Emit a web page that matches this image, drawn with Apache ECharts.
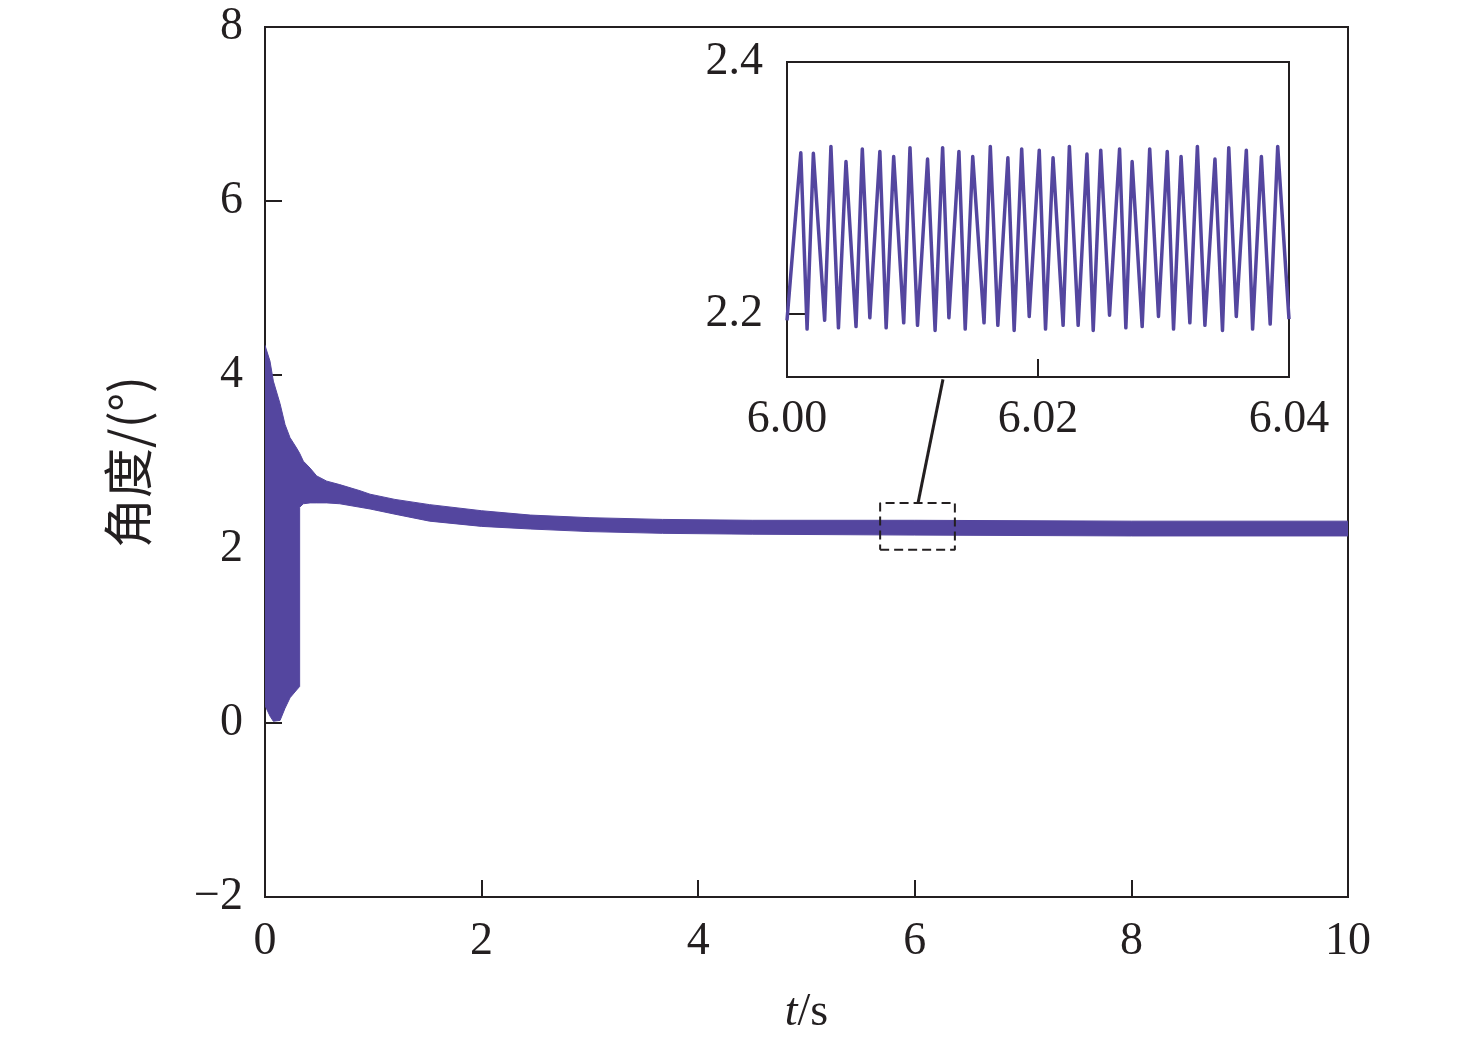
<!DOCTYPE html>
<html>
<head>
<meta charset="utf-8">
<script src="https://cdn.jsdelivr.net/npm/echarts@6/dist/echarts.min.js"></script>
<style>html,body{margin:0;padding:0;background:#fff;}#c{width:1476px;height:1042px;}</style>
</head>
<body>
<div id="c"></div>
<script>
// ---- main trace: oscillation envelope (t in s, angle in deg) ----
const mainT     = [0, 0.046, 0.077, 0.139, 0.185, 0.231, 0.292, 0.32, 0.32, 0.354, 0.416, 0.477, 0.57, 0.69, 0.877, 0.97, 1.2, 1.52, 2.0, 2.45, 3.0, 3.67, 4.5, 6.0, 8.0, 10.0];
const mainUpper = [4.34, 4.16, 3.93, 3.67, 3.43, 3.28, 3.16, 3.10, 3.10, 3.01, 2.93, 2.84, 2.78, 2.74, 2.67, 2.63, 2.57, 2.51, 2.44, 2.39, 2.36, 2.34, 2.33, 2.33, 2.32, 2.32];
const mainLower = [0.20, 0.08, 0.02, 0.03, 0.17, 0.29, 0.38, 0.42, 2.48, 2.52, 2.53, 2.53, 2.53, 2.52, 2.48, 2.46, 2.40, 2.32, 2.26, 2.23, 2.20, 2.18, 2.17, 2.16, 2.15, 2.15];

// ---- inset trace: 6.00 - 6.04 s ----
const insetT = [6.0000, 6.0011, 6.0016, 6.0021, 6.0030, 6.0035, 6.0041, 6.0047, 6.0055, 6.0060, 6.0066, 6.0074, 6.0079, 6.0085, 6.0093, 6.0098, 6.0104, 6.0112, 6.0118, 6.0124, 6.0129, 6.0137, 6.0142, 6.0148, 6.0157, 6.0162, 6.0168, 6.0176, 6.0181, 6.0187, 6.0193, 6.0201, 6.0206, 6.0212, 6.0220, 6.0225, 6.0232, 6.0239, 6.0244, 6.0250, 6.0257, 6.0265, 6.0270, 6.0275, 6.0283, 6.0289, 6.0296, 6.0303, 6.0308, 6.0314, 6.0321, 6.0327, 6.0333, 6.0341, 6.0347, 6.0352, 6.0358, 6.0366, 6.0371, 6.0378, 6.0385, 6.0391, 6.0400];
const insetV = [2.195, 2.328, 2.188, 2.3275, 2.195, 2.333, 2.189, 2.321, 2.190, 2.331, 2.197, 2.329, 2.189, 2.325, 2.193, 2.332, 2.191, 2.323, 2.187, 2.332, 2.197, 2.329, 2.188, 2.325, 2.193, 2.333, 2.191, 2.324, 2.187, 2.331, 2.198, 2.330, 2.188, 2.324, 2.191, 2.333, 2.191, 2.327, 2.187, 2.330, 2.199, 2.331, 2.189, 2.321, 2.190, 2.331, 2.198, 2.329, 2.188, 2.325, 2.193, 2.333, 2.191, 2.323, 2.187, 2.332, 2.198, 2.330, 2.188, 2.325, 2.192, 2.333, 2.196];

// ---- annotation: zoom box and connector (data units of main axes) ----
const zoomBoxT = [5.68, 6.37, 6.37, 5.68, 5.68];
const zoomBoxV = [1.99, 1.99, 2.53, 2.53, 1.99];
const connT = [6.03, 6.26];
const connV = [2.53, 3.95];

// ---- tick labels ----
const mainXTicks = [0, 2, 4, 6, 8, 10];
const mainYTicks = [-2, 0, 2, 4, 6, 8];
const insetXTicks = [6.00, 6.02, 6.04];
const insetYTicks = [2.2, 2.4];

const ink = '#231f20';
const purple = '#54469f';
const serif = "'Liberation Serif','Times New Roman',serif";
const FS = 46;

const chart = echarts.init(document.getElementById('c'), null, {renderer: 'canvas'});

const axisCommon = (extra) => Object.assign({
  type: 'value',
  axisLine: {show: true, onZero: false, lineStyle: {color: ink, width: 2}},
  splitLine: {show: false},
}, extra);

const option = {
  animation: false,
  backgroundColor: '#fff',
  grid: [
    {left: 265, top: 27, width: 1083, height: 870, show: true, borderColor: ink, borderWidth: 2, backgroundColor: 'transparent', containLabel: false},
    {left: 787, top: 62, width: 502, height: 315, show: true, borderColor: ink, borderWidth: 2, backgroundColor: '#fff', containLabel: false, z: 5}
  ],
  xAxis: [
    axisCommon({
      gridIndex: 0, min: 0, max: 10, interval: 2,
      axisTick: {show: true, inside: true, length: 17, lineStyle: {color: ink, width: 2}, customValues: mainXTicks},
      axisLabel: {fontSize: FS, color: ink, fontFamily: serif, margin: 22, customValues: mainXTicks},
      name: '{i|t}/s', nameLocation: 'middle', nameGap: 93,
      nameTextStyle: {fontSize: FS, color: ink, fontFamily: serif, rich: {i: {fontStyle: 'italic', fontSize: FS, color: ink, fontFamily: serif}}}
    }),
    axisCommon({
      gridIndex: 1, min: 6.00, max: 6.04, interval: 0.02, z: 6,
      axisTick: {show: true, inside: true, length: 18, lineStyle: {color: ink, width: 2}, customValues: insetXTicks},
      axisLabel: {fontSize: FS, color: ink, fontFamily: serif, margin: 20, customValues: insetXTicks, formatter: v => v.toFixed(2)}
    })
  ],
  yAxis: [
    axisCommon({
      gridIndex: 0, min: -2, max: 8, interval: 2,
      axisTick: {show: true, inside: true, length: 17, lineStyle: {color: ink, width: 2}, customValues: mainYTicks},
      axisLabel: {fontSize: FS, color: ink, fontFamily: serif, margin: 22, customValues: mainYTicks, formatter: v => String(v).replace('-', '\u2212')},
      name: '角度/(°)', nameLocation: 'middle', nameGap: 112, nameRotate: 90,
      nameTextStyle: {fontSize: 50, color: ink, fontFamily: "'Noto Sans CJK SC', sans-serif"}
    }),
    axisCommon({
      gridIndex: 1, min: 2.15, max: 2.4, z: 6,
      axisTick: {show: true, inside: true, length: 18, lineStyle: {color: ink, width: 2}, customValues: insetYTicks},
      axisLabel: {fontSize: FS, color: ink, fontFamily: serif, margin: 24, customValues: insetYTicks, formatter: v => v.toFixed(1)}
    })
  ],
  series: [
    {
      type: 'custom', xAxisIndex: 0, yAxisIndex: 0, clip: true, z: 2,
      data: mainT.map((t, i) => [t, mainLower[i], mainUpper[i]]),
      renderItem: function (params, api) {
        if (params.dataIndex !== 0) return null;
        const pts = [];
        for (let i = 0; i < mainT.length; i++) pts.push(api.coord([mainT[i], mainUpper[i]]));
        for (let i = mainT.length - 1; i >= 0; i--) pts.push(api.coord([mainT[i], mainLower[i]]));
        return {type: 'polygon', shape: {points: pts}, style: {fill: purple, stroke: purple, lineWidth: 1}};
      }
    },
    {
      type: 'line', xAxisIndex: 0, yAxisIndex: 0, z: 3,
      data: zoomBoxT.map((t, i) => [t, zoomBoxV[i]]),
      showSymbol: false, symbol: 'none',
      lineStyle: {color: ink, width: 2, type: [9, 5]}
    },
    {
      type: 'line', xAxisIndex: 0, yAxisIndex: 0, z: 3,
      data: connT.map((t, i) => [t, connV[i]]),
      showSymbol: false, symbol: 'none',
      lineStyle: {color: ink, width: 3}
    },
    {
      type: 'line', xAxisIndex: 1, yAxisIndex: 1, z: 7,
      data: insetT.map((t, i) => [t, insetV[i]]),
      showSymbol: false, symbol: 'none',
      lineStyle: {color: purple, width: 3.5, join: 'round'}
    }
  ]
};
chart.setOption(option);
</script>
</body>
</html>
